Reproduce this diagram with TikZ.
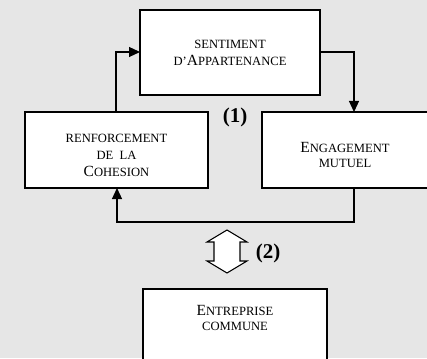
\documentclass[tikz,border=0pt]{standalone}
\usepackage{fontspec}
\setmainfont{Liberation Serif}
\usetikzlibrary{arrows.meta}
\definecolor{bg}{RGB}{230,230,230}
\newcommand\smc[1]{{\fontsize{12.6}{14}\selectfont\MakeUppercase{#1}}}
\newcommand\bgc[1]{{\fontsize{15.5}{14}\selectfont #1}}
\begin{document}
\begin{tikzpicture}[x=1pt,y=-1pt,
  box/.style={draw,fill=white,line width=1.3pt},
  conn/.style={line width=1.2pt,-{Triangle[length=11pt,width=10pt]}},
  lbl/.style={font=\bfseries\fontsize{21}{21}\selectfont},
  txt/.style={align=center,inner sep=0pt}]
\fill[bg] (0,0) rectangle (427,358);
\useasboundingbox (0,0) rectangle (427,358);
% boxes
\draw[box] (140,10) rectangle (320,95);
\node[txt] (sent) at (230,53) {\smc{sentiment}\\[5pt]\smc{d'}\bgc{A}\smc{ppartenance}};
\coordinate (sentL) at (140,52);
\coordinate (sentR) at (320,52);
\draw[box] (25,112) rectangle (208,188);
\node[txt] (renf) at (116.5,155) {\smc{renforcement}\\[5pt]\smc{de\ \ la}\\[5pt]\bgc{C}\smc{ohesion}};
\coordinate (renfT) at (116,112);
\coordinate (renfB) at (117,188);
\draw[box] (262,112) rectangle (440,188);
\node[txt] (eng) at (345,155) {\bgc{E}\smc{ngagement}\\[3pt]\smc{mutuel}};
\coordinate (engT) at (354,112);
\coordinate (engB) at (354,188);
\draw[box] (143,289) rectangle (327,380);
\node[txt] (ent) at (235,318) {\bgc{E}\smc{ntreprise}\\[3pt]\smc{commune}};
% connectors
\draw[conn] (renfT) |- (sentL);
\draw[conn] (sentR) -| (engT);
\draw[conn] (engB) |- (354,222) -| (renfB);
% labels
\node[lbl] (l1) at (235,117) {(1)};
\node[lbl] (l2) at (268,253) {(2)};
% double arrow
\draw[line width=1.1pt,fill=white,line join=miter] (227,230) -- (247,242) -- (240,242) -- (240,261) -- (247,261) -- (227,273) -- (207,261) -- (214,261) -- (214,242) -- (207,242) -- cycle;
\end{tikzpicture}
\end{document}
